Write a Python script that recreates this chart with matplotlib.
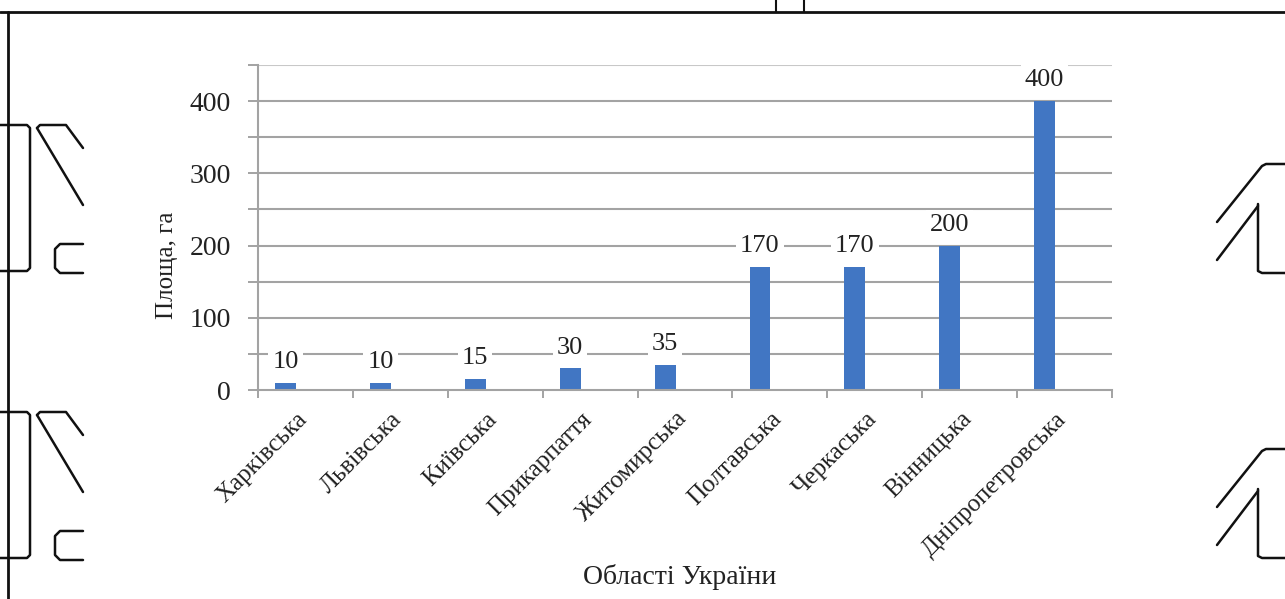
import matplotlib
matplotlib.use("Agg")
import matplotlib.pyplot as plt
from matplotlib.lines import Line2D
import numpy as np

# Data: area by region of Ukraine (ha)
regions = ["Харківська", "Львівська", "Київська", "Прикарпаття", "Житомирська",
           "Полтавська", "Черкаська", "Вінницька", "Дніпропетровська"]
area_ha = [10, 10, 15, 30, 35, 170, 170, 200, 400]
y_ticks = [0, 100, 200, 300, 400]
y_label = "Площа, га"
x_label = "Області України"

plt.rcParams["font.family"] = ["Liberation Serif", "DejaVu Serif"]

W, H = 1285, 599
fig = plt.figure(figsize=(W / 100, H / 100), dpi=100)
ax = fig.add_axes([258 / W, 1 - 390 / H, (1112 - 258) / W, (390 - 65) / H])

grid_c = "#a3a3a3"
bar_c = "#4176c3"
text_c = "#222222"

x = np.arange(len(regions))
ax.set_xlim(-0.5, len(regions) - 0.5)
ax.set_ylim(0, 450)

# horizontal grid every 50
for v in np.arange(50, 451, 50):
    ax.axhline(v, color=grid_c if v < 450 else "#c8c8c8", lw=1.5, zorder=0)

bars = ax.bar(x - 0.21, area_ha, width=0.22, color=bar_c, zorder=2)
for xi, v in zip(x - 0.21, area_ha):
    ax.annotate(f"{v}", (xi, v), xytext=(0, 7), textcoords="offset points",
                ha="center", va="bottom", fontsize=19, color=text_c, zorder=3,
                bbox=dict(boxstyle="square,pad=0.15", fc="white", ec="none"))

# axes styling
for s in ["top", "right"]:
    ax.spines[s].set_visible(False)
ax.spines["left"].set_color(grid_c)
ax.spines["bottom"].set_color(grid_c)
ax.spines["left"].set_linewidth(1.5)
ax.spines["bottom"].set_linewidth(1.5)

ax.set_yticks(np.arange(0, 451, 50))
ax.set_yticklabels([str(v) if v in y_ticks else "" for v in np.arange(0, 451, 50)])
ax.tick_params(axis="y", length=7.5, width=1.4, color=grid_c, labelsize=20,
               labelcolor=text_c, pad=12)

ax.set_xticks(np.arange(-0.5, len(regions), 1.0), minor=False)
ax.set_xticklabels([])
ax.tick_params(axis="x", which="major", length=6, width=1.4, color=grid_c)
ax.set_xticks(x - 0.1, minor=True)
ax.set_xticklabels(regions, minor=True, rotation=45, ha="right", va="top",
                   rotation_mode="anchor", fontsize=18, color=text_c)
ax.tick_params(axis="x", which="minor", length=0, pad=13)

ax.set_ylabel(y_label, fontsize=18, color=text_c)
ax.yaxis.set_label_coords(-0.094, 0.385)
ax.set_xlabel(x_label, fontsize=20, color=text_c, va="center")
ax.xaxis.set_label_coords(0.494, -0.575)


# page elements around the chart
def fline(xs, ys, lw=1.8, color="#111111"):
    fig.add_artist(Line2D([px / W for px in xs], [1 - py / H for py in ys],
                          transform=fig.transFigure, color=color, lw=lw,
                          solid_joinstyle="round", solid_capstyle="round"))


fline([0, W], [12, 12], lw=2)
fline([8, 8], [12, H], lw=2)
fline([776, 776], [0, 12], lw=1.5)
fline([804, 804], [0, 12], lw=1.5)

for dy in (0, 287):
    fline([0, 27, 30, 30, 27, 0], [125 + dy, 125 + dy, 128 + dy, 268 + dy, 271 + dy, 271 + dy])
    fline([37, 83], [128 + dy, 205 + dy])
    fline([37, 40, 66, 83], [128 + dy, 125 + dy, 125 + dy, 148 + dy])
    fline([83, 60, 55, 55, 60, 83], [244 + dy, 244 + dy, 249 + dy, 268 + dy, 273 + dy, 273 + dy])

for y0 in (164, 449):
    d = y0 - 164
    fline([1217, 1262, 1266, W], [222 + d, 166 + d, 164 + d, 164 + d])
    fline([1217, 1258], [260 + d, 206 + d])
    fline([1258, 1258, 1262, W], [204 + d, 271 + d, 273 + d, 273 + d])

fig.savefig("out.png", dpi=100, facecolor="white")
